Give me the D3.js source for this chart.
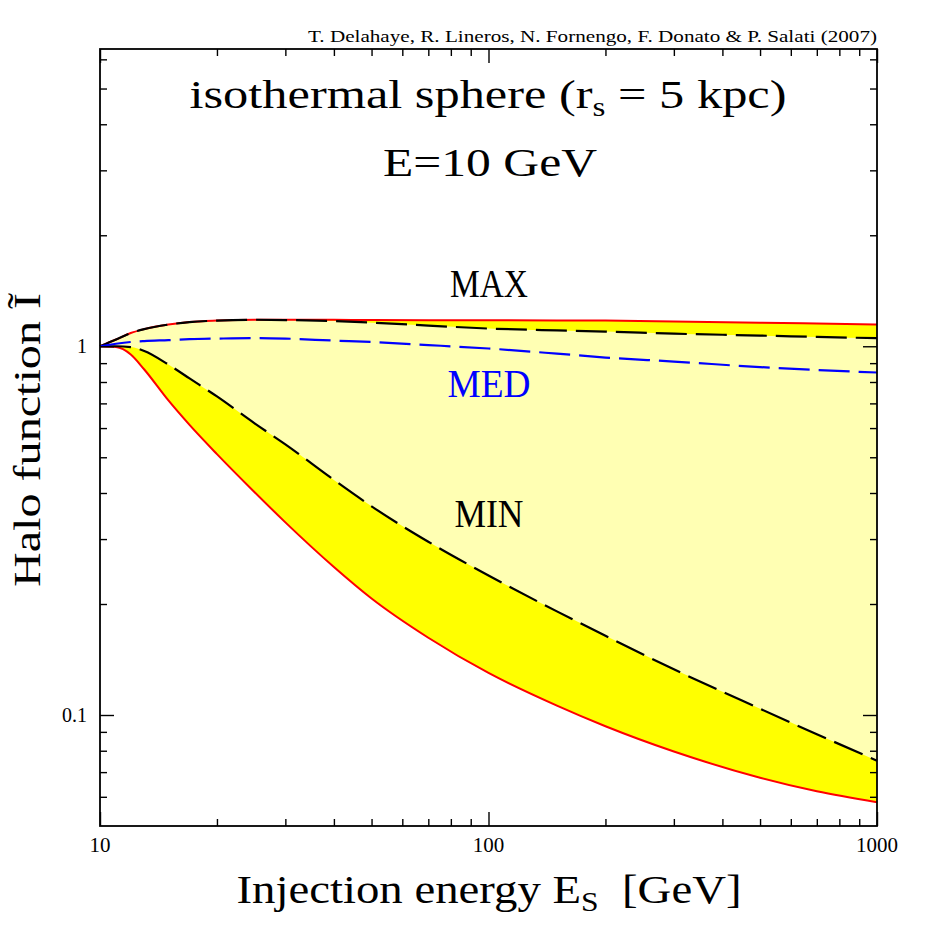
<!DOCTYPE html>
<html>
<head>
<meta charset="utf-8">
<script src="https://cdn.jsdelivr.net/npm/d3@7"></script>
<style>
  body { margin: 0; background: #fff; }
  text { font-family: "Liberation Serif", "DejaVu Serif", serif; fill: #000; }
</style>
</head>
<body>
<svg id="chart" width="926" height="926"></svg>
<script>
// injection energy grid (GeV) and halo function values
const energies = [10, 11, 12, 13, 15, 17, 20, 25, 30, 40, 50, 70, 100, 150, 200, 300, 500, 700, 1000];
const redUpper = [1.0, 1.043, 1.086, 1.113, 1.145, 1.163, 1.174, 1.181, 1.181, 1.180, 1.178, 1.177, 1.176, 1.175, 1.174, 1.168, 1.159, 1.152, 1.145];
const maxCurve = [1.0, 1.043, 1.086, 1.113, 1.145, 1.163, 1.174, 1.180, 1.178, 1.170, 1.159, 1.138, 1.117, 1.104, 1.096, 1.082, 1.069, 1.060, 1.052];
const medCurve = [1.0, 1.016, 1.027, 1.033, 1.039, 1.045, 1.049, 1.0525, 1.049, 1.036, 1.027, 1.0075, 0.986, 0.955, 0.932, 0.909, 0.878, 0.862, 0.849];
const minCurve = [1.0, 1.0, 0.995, 0.971, 0.892, 0.818, 0.731, 0.618, 0.542, 0.434, 0.368, 0.295, 0.239, 0.191, 0.164, 0.133, 0.104, 0.0887, 0.0752];
const redLower = [1.0, 0.995, 0.950, 0.865, 0.713, 0.612, 0.510, 0.402, 0.333, 0.252, 0.207, 0.162, 0.130, 0.106, 0.0932, 0.0796, 0.0676, 0.0621, 0.0580];

const xMajor = [10, 100, 1000];
const xMinor = [20, 30, 40, 50, 60, 70, 80, 90, 200, 300, 400, 500, 600, 700, 800, 900];
const yMajor = [0.1, 1];
const yMinor = [0.06, 0.07, 0.08, 0.09, 0.2, 0.3, 0.4, 0.5, 0.6, 0.7, 0.8, 0.9, 2, 3, 4, 5, 6];
const xDomain = [10, 1000];
const yDomain = [0.05, 6.4];

const svg = d3.select("#chart");
const margin = { top: 49, right: 49, bottom: 100, left: 100 };
const width = 926, height = 926;
const innerW = width - margin.left - margin.right;
const innerH = height - margin.top - margin.bottom;

const x = d3.scaleLog().domain(xDomain).range([0, innerW]);
const y = d3.scaleLog().domain(yDomain).range([innerH, 0]);

const g = svg.append("g").attr("transform", `translate(${margin.left},${margin.top})`);

const rows = energies.map((e, i) => ({
  e, ru: redUpper[i], mx: maxCurve[i], md: medCurve[i], mn: minCurve[i], rl: redLower[i]
}));

const band = (lo, hi) => d3.area()
  .x(d => x(d.e))
  .y0(d => y(d[lo]))
  .y1(d => y(d[hi]))
  .curve(d3.curveMonotoneX);
const line = key => d3.line()
  .x(d => x(d.e))
  .y(d => y(d[key]))
  .curve(d3.curveMonotoneX);

g.append("path").datum(rows).attr("d", band("rl", "ru")).attr("fill", "#ffff00");
g.append("path").datum(rows).attr("d", band("mn", "mx")).attr("fill", "#ffffb3");

g.append("path").datum(rows).attr("d", line("ru"))
  .attr("fill", "none").attr("stroke", "#ff0000").attr("stroke-width", 2);
g.append("path").datum(rows).attr("d", line("rl"))
  .attr("fill", "none").attr("stroke", "#ff0000").attr("stroke-width", 2);

[["mx", "#000"], ["mn", "#000"], ["md", "#0000ff"]].forEach(([k, c]) => {
  g.append("path").datum(rows).attr("d", line(k))
    .attr("fill", "none").attr("stroke", c).attr("stroke-width", 2.2)
    .attr("stroke-dasharray", "31,9");
});

// frame and inward ticks on all four sides
const axes = [
  [() => d3.axisBottom(x), `translate(0,${innerH})`, xMajor, xMinor],
  [() => d3.axisTop(x), null, xMajor, xMinor],
  [() => d3.axisLeft(y), null, yMajor, yMinor],
  [() => d3.axisRight(y), `translate(${innerW},0)`, yMajor, yMinor]
];
axes.forEach(([mk, tr, maj, min]) => {
  [[maj, 14], [min, 7]].forEach(([vals, len]) => {
    const a = g.append("g")
      .call(mk().tickValues(vals).tickSizeInner(-len).tickSizeOuter(0).tickFormat(""));
    if (tr) a.attr("transform", tr);
    a.select(".domain").remove();
    a.selectAll("line").attr("stroke", "#000").attr("stroke-width", 1.4);
  });
});
g.append("rect").attr("width", innerW).attr("height", innerH)
  .attr("fill", "none").attr("stroke", "#000").attr("stroke-width", 1.8);

// tick labels
xMajor.forEach(v => {
  g.append("text").attr("x", x(v)).attr("y", innerH + 26)
    .attr("text-anchor", "middle").style("font-size", "21px").text(d3.format("d")(v));
});
yMajor.forEach(v => {
  g.append("text").attr("x", -13).attr("y", y(v) + 7)
    .attr("text-anchor", "end").style("font-size", "20px").text(v === 1 ? "1" : "0.1");
});

// annotations, stretched to the extents seen in the figure
function fit(sel, len) {
  return sel.attr("textLength", len).attr("lengthAdjust", "spacingAndGlyphs");
}

fit(svg.append("text").attr("x", 877).attr("y", 42).attr("text-anchor", "end")
  .style("font-size", "16px"), 569)
  .text("T. Delahaye, R. Lineros, N. Fornengo, F. Donato & P. Salati (2007)");

const title = fit(svg.append("text").attr("x", 488).attr("y", 108).attr("text-anchor", "middle")
  .style("font-size", "41px"), 597);
title.append("tspan").text("isothermal sphere (r");
title.append("tspan").attr("baseline-shift", "-30%").style("font-size", "27px").text("s");
title.append("tspan").text(" = 5 kpc)");

fit(svg.append("text").attr("x", 490).attr("y", 176).attr("text-anchor", "middle")
  .style("font-size", "41px"), 214).text("E=10 GeV");

const labels = [["MAX", 297, "#000", 78], ["MED", 397, "#0000ff", 83], ["MIN", 527, "#000", 69]];
labels.forEach(([t, yy, c, w]) => {
  fit(svg.append("text").attr("x", 489).attr("y", yy).attr("text-anchor", "middle")
    .style("font-size", "40px").style("fill", c), w).text(t);
});

const xl = fit(svg.append("text").attr("x", 489).attr("y", 903).attr("text-anchor", "middle")
  .style("font-size", "40px"), 505);
xl.append("tspan").text("Injection energy E");
xl.append("tspan").attr("baseline-shift", "-30%").style("font-size", "27px").text("S");
xl.append("tspan").text("\u00a0\u00a0[GeV]");

fit(svg.append("text").attr("transform", "translate(40,440) rotate(-90)")
  .attr("text-anchor", "middle").style("font-size", "38px"), 294)
  .text("Halo function \u0128");
</script>
</body>
</html>
